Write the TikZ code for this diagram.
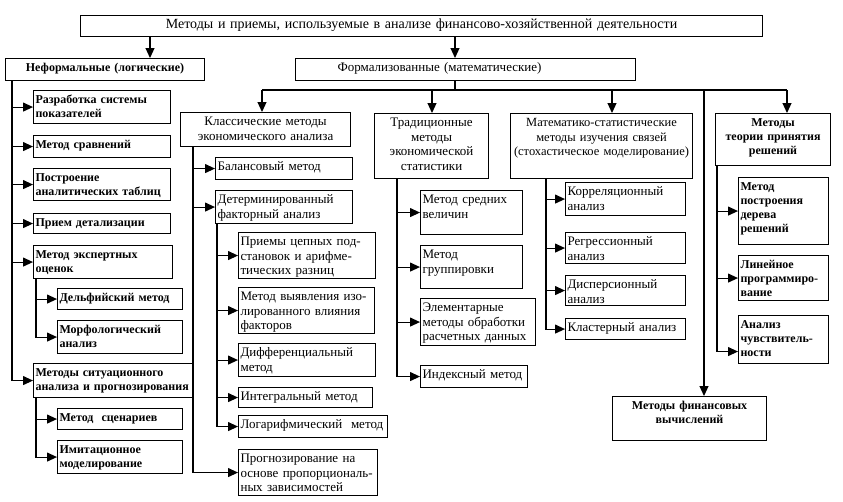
\documentclass[tikz,border=0pt]{standalone}
\usepackage{fontspec}
\setmainfont{Liberation Serif}
\usetikzlibrary{arrows.meta}

\newcommand\boxfont{\fontsize{13}{14.5}\selectfont}

\begin{document}
\begin{tikzpicture} [%
    x = 1pt, y = -1pt,
    >= {Triangle[length=10pt, width=9pt]},
    line width = 1.1pt,
    blk/.code 2 args = {%
      \pgfmathsetmacro\blkw{#1-4}%
      \pgfmathsetmacro\blkd{#2-16}%
      \pgfkeysalso{draw, anchor=north west, inner xsep=2pt, inner ysep=3pt,
        align=left, font=\boxfont,
        text width=\blkw pt, text height=10pt, text depth=\blkd pt}},
    head/.style = {align=center},
    heavy/.style = {font=\fontsize{12}{14}\selectfont\bfseries}
  ]

\useasboundingbox (0,0) rectangle (843,501);

\node[blk={682}{21}, head, font=\fontsize{14}{16}\selectfont] (top) at (80,15) {Методы и приемы, используемые в анализе финансово-хозяйственной деятельности};
\node[blk={199}{22}, head, heavy] (neform) at (5,58)   {Неформальные (логические)};
\node[blk={340}{22}]              (form)   at (295,58) {\hspace*{40pt}Формализованные (математические)};

% неформальные
\node[blk={137}{33}, heavy] (razr)   at (33,90)  {Разработка системы\\показателей};
\node[blk={137}{22}, heavy] (sravn)  at (33,135) {Метод сравнений};
\node[blk={137}{32}, heavy] (postr)  at (33,168) {Построение\\аналитических таблиц};
\node[blk={137}{20}, heavy] (detal)  at (33,213) {Прием детализации};
\node[blk={139}{33}, heavy] (expert) at (33,245) {Метод экспертных\\оценок};
\node[blk={125}{21}, heavy] (delf)   at (57,288) {Дельфийский метод};
\node[blk={125}{33}, heavy] (morf)   at (57,320) {Морфологический\\анализ};
\node[blk={160}{34}, heavy] (sit)    at (33,363) {Методы ситуационного\\анализа и прогнозирования};
\node[blk={125}{21}, heavy] (scen)   at (57,408) {Метод\ \ сценариев};
\node[blk={125}{33}, heavy] (imit)   at (57,440) {Имитационное\\моделирование};

% классические
\node[blk={170}{34}, head] (classic) at (180,112) {Классические методы\\экономического анализа};
\node[blk={137}{22}] (balans) at (215,157) {Балансовый метод};
\node[blk={137}{33}] (determ) at (215,190) {Детерминированный\\факторный анализ};
\node[blk={137}{46}] (cepn)   at (238,232) {Приемы цепных под-\\становок и арифме-\\тических разниц};
\node[blk={136}{46}] (izol)   at (238,287) {Метод выявления изо-\\лированного влияния\\факторов};
\node[blk={137}{33}] (diff)   at (238,343) {Дифференциальный\\метод};
\node[blk={134}{20}] (integr) at (238,387) {Интегральный метод};
\node[blk={149}{22}] (logar)  at (238,415) {Логарифмический\ \ метод};
\node[blk={139}{46}] (prop)   at (238,449) {Прогнозирование на\\основе пропорциональ-\\ных зависимостей};

% традиционные
\node[blk={114}{65}, head] (trad) at (374,113) {Традиционные\\методы\\экономической\\статистики};
\node[blk={102}{44}] (sredn) at (420,190) {Метод средних\\величин};
\node[blk={102}{43}] (grupp) at (420,245) {Метод\\группировки};
\node[blk={115}{47}] (elem)  at (420,298) {Элементарные\\методы обработки\\расчетных данных};
\node[blk={107}{22}] (index) at (420,365) {Индексный метод};

% математико-статистические
\node[blk={182}{65}, head, font=\fontsize{12.5}{14.5}\selectfont] (math) at (510,113) {Математико-статистические\\методы изучения связей\\(стохастическое моделирование)};
\node[blk={120}{33}] (korr)  at (565,182) {Корреляционный\\анализ};
\node[blk={120}{31}] (regr)  at (565,232) {Регрессионный\\анализ};
\node[blk={120}{30}] (disp)  at (565,275) {Дисперсионный\\анализ};
\node[blk={120}{21}] (klast) at (565,318) {Кластерный анализ};

% теория решений
\node[blk={115}{52}, head, heavy] (dec) at (715,113) {Методы\\теории принятия\\решений};
\node[blk={90}{67}, heavy] (tree) at (738,177) {Метод\\построения\\дерева\\решений};
\node[blk={90}{45}, heavy] (lin)  at (738,255) {Линейное\\программиро-\\вание};
\node[blk={90}{48}, heavy] (sens) at (738,315) {Анализ\\чувствитель-\\ности};
\node[blk={154}{44}, head, heavy] (fin) at (612,396) {Методы финансовых\\вычислений};

\draw[->] (150,0 |- top.south) -- (150,0 |- neform.north);
\draw[->] (455,0 |- top.south) -- (455,0 |- form.north);

\coordinate (bus) at (455,90);
\draw (455,0 |- form.south) -- (bus);
\draw (262,0 |- bus) -- (787,0 |- bus);
\draw[->] (262,0 |- bus) -- (262,0 |- classic.north);
\draw[->] (432,0 |- bus) -- (432,0 |- trad.north);
\draw[->] (612,0 |- bus) -- (612,0 |- math.north);
\draw[->] (787,0 |- bus) -- (787,0 |- dec.north);
\draw[->] (704,0 |- bus) -- (704,0 |- fin.north);

\foreach \n in {razr, sravn, postr, detal, expert, sit}
  \draw[->] (12,0 |- neform.south) |- (\n);
\foreach \n in {delf, morf}
  \draw[->] (36,0 |- expert.south) |- (\n);
\foreach \n in {scen, imit}
  \draw[->] (36,0 |- sit.south) |- (\n);

\foreach \n in {balans, determ, prop}
  \draw[->] (193,0 |- classic.south) |- (\n);
\foreach \n in {cepn, izol, diff, integr, logar}
  \draw[->] (217,0 |- determ.south) |- (\n);

\foreach \n in {sredn, grupp, elem, index}
  \draw[->] (397,0 |- trad.south) |- (\n);
\foreach \n in {korr, regr, disp, klast}
  \draw[->] (546,0 |- math.south) |- (\n);

\foreach \n in {tree, lin}
  \draw[->] (717,0 |- dec.south) |- (\n);
\draw[->] (717,0 |- dec.south) |- ([yshift=-12pt]sens.west);

\end{tikzpicture}
\end{document}
